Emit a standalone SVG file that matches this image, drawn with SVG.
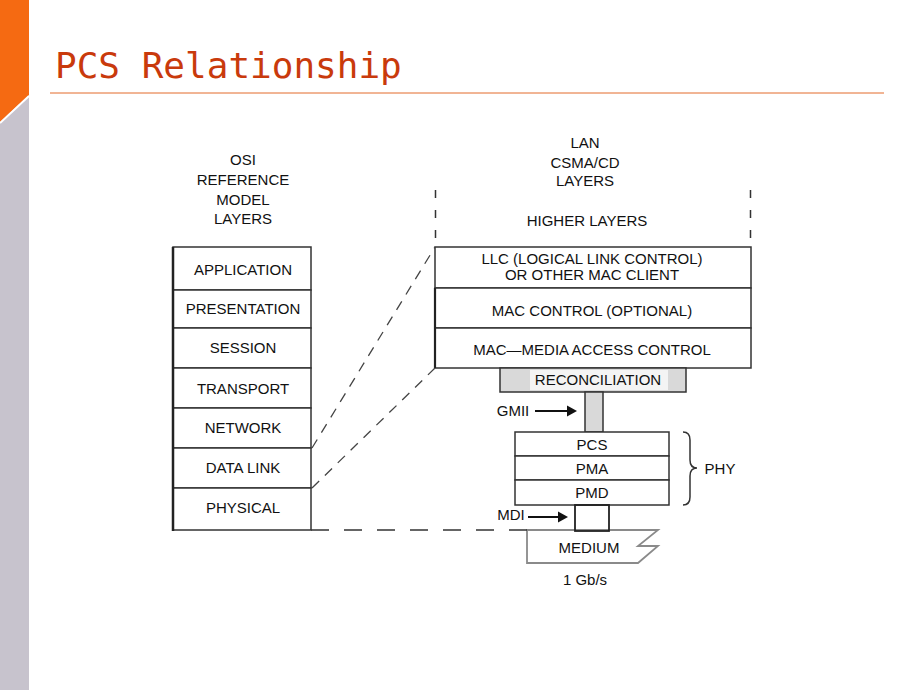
<svg xmlns="http://www.w3.org/2000/svg" width="920" height="690" viewBox="0 0 920 690">
<defs>
<style>
.t{font-family:"Liberation Sans",Arial,sans-serif;font-size:15px;fill:#111;text-anchor:middle}
.box{fill:#fff;stroke:#333;stroke-width:1.5}
.ln{stroke:#333;stroke-width:1.5;fill:none}
.dash{stroke:#444;stroke-width:1.3;fill:none;stroke-dasharray:10 8}
.gray{fill:#d9d9d9;stroke:#333;stroke-width:1.5}
</style>
</defs>
<rect width="920" height="690" fill="#fff"/>
<g id="decor">
<rect x="0" y="0" width="29" height="690" fill="#c7c3cd"/>
<polygon points="0,0 29,0 29,95 0,122" fill="#f56a12"/>
<line x1="29" y1="96" x2="0" y2="123" stroke="#fff" stroke-width="2"/>
<text x="55" y="78" font-family="'DejaVu Sans Mono',monospace" font-size="36" fill="#c93a0c">PCS Relationship</text>
<line x1="50" y1="93" x2="884" y2="93" stroke="#e36a2a" stroke-width="1"/>
</g>
<g id="osi-title">
<text class="t" x="243" y="165">OSI</text>
<text class="t" x="243" y="185">REFERENCE</text>
<text class="t" x="243" y="205">MODEL</text>
<text class="t" x="243" y="224">LAYERS</text>
</g>
<g id="osi-application"><rect class="box" x="173" y="247" width="138" height="43"/><text class="t" x="243" y="275">APPLICATION</text></g>
<g id="osi-presentation"><rect class="box" x="173" y="290" width="138" height="38"/><text class="t" x="243" y="314">PRESENTATION</text></g>
<g id="osi-session"><rect class="box" x="173" y="328" width="138" height="40"/><text class="t" x="243" y="353">SESSION</text></g>
<g id="osi-transport"><rect class="box" x="173" y="368" width="138" height="40"/><text class="t" x="243" y="394">TRANSPORT</text></g>
<g id="osi-network"><rect class="box" x="173" y="408" width="138" height="40"/><text class="t" x="243" y="433">NETWORK</text></g>
<g id="osi-datalink"><rect class="box" x="173" y="448" width="138" height="40"/><text class="t" x="243" y="473">DATA LINK</text></g>
<g id="osi-physical"><rect class="box" x="173" y="488" width="138" height="42"/><text class="t" x="243" y="513">PHYSICAL</text></g>
<line x1="173" y1="247" x2="173" y2="531" stroke="#222" stroke-width="2.5"/>
<g id="lan-title">
<text class="t" x="585" y="148">LAN</text>
<text class="t" x="585" y="168">CSMA/CD</text>
<text class="t" x="585" y="186">LAYERS</text>
</g>
<g id="higher-layers">
<line x1="435.5" y1="190" x2="435.5" y2="247" stroke="#333" stroke-width="1.5" stroke-dasharray="8 12"/>
<line x1="750.5" y1="190" x2="750.5" y2="247" stroke="#333" stroke-width="1.5" stroke-dasharray="8 12"/>
<text class="t" x="587" y="226">HIGHER LAYERS</text>
</g>
<g id="llc"><rect class="box" x="435" y="247" width="316" height="41"/><text class="t" x="592" y="264">LLC (LOGICAL LINK CONTROL)</text><text class="t" x="592" y="280">OR OTHER MAC CLIENT</text></g>
<g id="mac-control"><rect class="box" x="435" y="288" width="316" height="40"/><text class="t" x="592" y="316">MAC CONTROL (OPTIONAL)</text></g>
<g id="mac"><rect class="box" x="435" y="328" width="316" height="40"/><text class="t" x="592" y="355">MAC—MEDIA ACCESS CONTROL</text></g>
<line x1="435" y1="288" x2="435" y2="368" stroke="#222" stroke-width="2.2"/>
<g id="reconciliation">
<rect class="gray" x="500" y="368" width="186" height="24"/>
<rect x="530" y="370" width="138" height="20" fill="#f4f4f4"/>
<text class="t" x="598" y="385">RECONCILIATION</text>
</g>
<g id="gmii">
<rect class="gray" x="585" y="392" width="18" height="40"/>
<text class="t" x="513" y="416">GMII</text>
</g>
<g id="pcs"><rect class="box" x="515" y="432" width="154" height="24"/><text class="t" x="592" y="450">PCS</text></g>
<g id="pma"><rect class="box" x="515" y="456" width="154" height="24"/><text class="t" x="592" y="474">PMA</text></g>
<g id="pmd"><rect class="box" x="515" y="480" width="154" height="25"/><text class="t" x="592" y="498">PMD</text></g>
<g id="phy">
<path class="ln" d="M683,432 Q690,432 690,440 L690,460 Q690,468 697,468 Q690,468 690,476 L690,497 Q690,505 683,505" stroke-width="1.2"/>
<text class="t" x="720" y="474">PHY</text>
</g>
<g id="medium">
<polygon points="527,530 658,530 638,546 658,546 638,563 527,563" fill="#fff" stroke="#8a8a8a" stroke-width="1.8"/>
<text class="t" x="589" y="553">MEDIUM</text>
<text class="t" x="585" y="585">1 Gb/s</text>
</g>
<g id="mdi">
<rect x="575" y="505" width="34" height="26" fill="none" stroke="#222" stroke-width="1.8"/>
<text class="t" x="511" y="520">MDI</text>
</g>
<g id="connectors">
<line class="dash" x1="312" y1="448" x2="435" y2="247"/>
<line class="dash" x1="312" y1="488" x2="435" y2="368"/>
<line x1="311" y1="530" x2="527" y2="530" stroke="#333" stroke-width="1.5" stroke-dasharray="18 15"/>
<line x1="535" y1="411" x2="568" y2="411" stroke="#111" stroke-width="2"/>
<polygon points="567,405.5 577,411 567,416.5" fill="#111"/>
<line x1="528" y1="517" x2="559" y2="517" stroke="#111" stroke-width="2"/>
<polygon points="558,511.5 568,517 558,522.5" fill="#111"/>
</g>
</svg>
